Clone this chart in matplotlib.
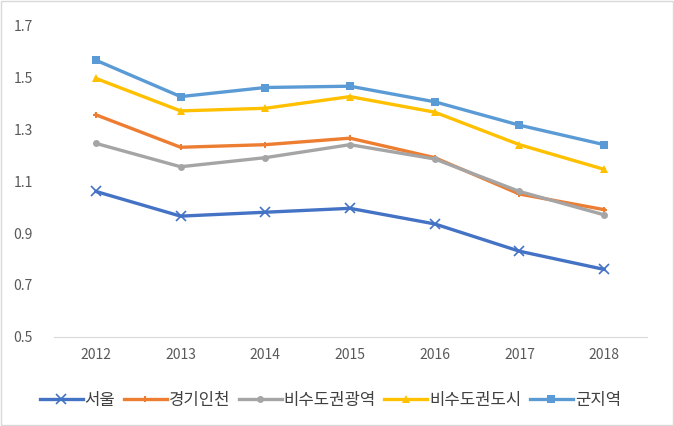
import matplotlib
matplotlib.use("Agg")
import matplotlib.pyplot as plt

plt.rcParams['font.family'] = ['Noto Sans CJK KR', 'DejaVu Sans']

years = ['2012', '2013', '2014', '2015', '2016', '2017', '2018']
seoul = [1.06, 0.965, 0.98, 0.995, 0.935, 0.83, 0.76]
gyeonggi = [1.355, 1.23, 1.24, 1.265, 1.19, 1.05, 0.99]
metro = [1.245, 1.155, 1.19, 1.24, 1.185, 1.06, 0.97]
city = [1.495, 1.37, 1.38, 1.425, 1.365, 1.24, 1.145]
county = [1.565, 1.425, 1.46, 1.465, 1.405, 1.315, 1.24]

names = ['서울', '경기인천', '비수도권광역', '비수도권도시', '군지역']
series = [seoul, gyeonggi, metro, city, county]
colors = ['#4472C4', '#ED7D31', '#A5A5A5', '#FFC000', '#5B9BD5']
markers = ['x', 'P', 'o', '^', 's']
msizes = [7, 5, 5, 6, 6]

fig = plt.figure(figsize=(6.74, 4.26), dpi=100)
ax = fig.add_axes([0.0794, 0.209, 0.8798, 0.732])

x = list(range(len(years)))
for vals, name, c, m, ms in zip(series, names, colors, markers, msizes):
    ax.plot(x, vals, color=c, lw=2.4, marker=m, markersize=ms,
            markeredgewidth=1.2 if m == 'x' else 0, label=name)

ax.set_xlim(-0.5, len(years) - 0.5)
ax.set_ylim(0.5, 1.7)
ax.set_yticks([0.5, 0.7, 0.9, 1.1, 1.3, 1.5, 1.7])
ax.set_yticklabels(['0.5', '0.7', '0.9', '1.1', '1.3', '1.5', '1.7'])
ax.set_xticks(x)
ax.set_xticklabels(years)
ax.tick_params(axis='both', length=0, labelsize=10, colors='#595959')
ax.tick_params(axis='x', pad=8)
ax.tick_params(axis='y', pad=15)
for side in ['top', 'right', 'left']:
    ax.spines[side].set_visible(False)
ax.spines['bottom'].set_color('#D9D9D9')

fig.legend(loc='center', bbox_to_anchor=(0.49, 0.06), ncol=5, frameon=False,
           fontsize=12, handlelength=2.6, handletextpad=0.1, columnspacing=0.5,
           labelcolor='#404040')

fig.patches.append(plt.Rectangle((0.002, 0.002), 0.996, 0.996, transform=fig.transFigure,
                                 fill=False, edgecolor='#D9D9D9', lw=1))

fig.savefig('out.png', dpi=100)
